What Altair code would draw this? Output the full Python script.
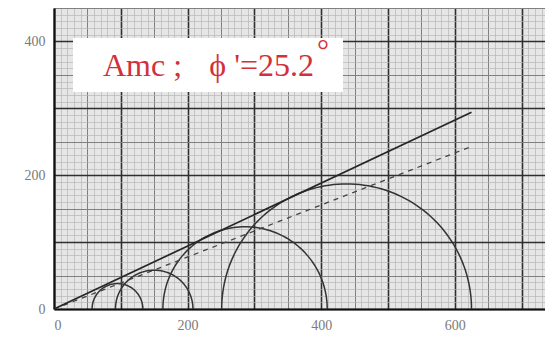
import altair as alt
import pandas as pd

# ---- data ----
circle_center = [95, 150, 286, 438]      # sigma' centre of each Mohr circle
circle_radius = [38, 58, 123, 187]       # radius of each Mohr circle
env_x = [0, 625]                         # envelope end points (x)
solid_y = [0, 294]                       # solid envelope (phi' = 25.2 deg)
dash_y = [0, 243]                        # dashed envelope
x_label_values = [0, 200, 400, 600]
y_label_values = [0, 200, 400]
grid_step = 10
x_max, y_max = 735, 450
label_left = "Amc ;"
label_right = "\u03d5 '=25.2"
degree_text = "\u00b0"

W, H = 491, 301

xs = alt.Scale(domain=[0, x_max], nice=False, zero=False)
ys = alt.Scale(domain=[0, y_max], nice=False, zero=False)

grid_color = {
    "condition": [
        {"test": "datum.value % 100 === 0", "value": "#2f2f2f"},
        {"test": "datum.value % 50 === 0", "value": "#808080"},
    ],
    "value": "#b4b4b4",
}
grid_width = {
    "condition": [
        {"test": "datum.value % 100 === 0", "value": 1.6},
        {"test": "datum.value % 50 === 0", "value": 1.0},
    ],
    "value": 0.65,
}

x_lab = " || ".join(f"datum.value === {v}" for v in x_label_values)
y_lab = " || ".join(f"datum.value === {v}" for v in y_label_values)

x_axis = alt.Axis(
    values=list(range(0, x_max + 1, grid_step)),
    grid=True, gridColor=grid_color, gridWidth=grid_width, gridOpacity=1,
    ticks=False, domainColor="#111", domainWidth=2.2,
    labelExpr=f"({x_lab}) ? datum.label : ''", labelOverlap=False,
    labelFont="Liberation Serif", labelFontSize=14, labelColor="#7a7a7a",
    labelPadding=9, title=None,
)
y_axis = alt.Axis(
    values=list(range(0, y_max + 1, grid_step)),
    grid=True, gridColor=grid_color, gridWidth=grid_width, gridOpacity=1,
    ticks=False, domainColor="#111", domainWidth=2.2,
    labelExpr=f"({y_lab}) ? datum.label : ''", labelOverlap=False,
    labelFont="Liberation Serif", labelFontSize=14, labelColor="#7a7a7a",
    labelPadding=9, title=None,
)


def X(field):
    return alt.X(field, scale=xs, axis=x_axis)


def Y(field):
    return alt.Y(field, scale=ys, axis=y_axis)


env = pd.DataFrame({"x": env_x * 2, "y": solid_y + dash_y,
                    "kind": ["solid", "solid", "dash", "dash"]})

solid = alt.Chart(env).transform_filter("datum.kind === 'solid'").mark_line(
    color="#262626", strokeWidth=1.7
).encode(x=X("x:Q"), y=Y("y:Q"))

dashed = alt.Chart(env).transform_filter("datum.kind === 'dash'").mark_line(
    color="#444", strokeWidth=1.3, strokeDash=[5, 5]
).encode(x=X("x:Q"), y=Y("y:Q"))

circ_df = pd.DataFrame({"c": circle_center, "r": circle_radius,
                        "id": list(range(len(circle_center)))})
circles = alt.Chart(circ_df).transform_calculate(
    t="sequence(0, 181, 2)"
).transform_flatten(["t"]).transform_calculate(
    px="datum.c + datum.r * cos(datum.t * PI / 180)",
    py="datum.r * sin(datum.t * PI / 180)",
).mark_line(color="#333", strokeWidth=1.5).encode(
    x=X("px:Q"), y=Y("py:Q"),
    detail="id:N", order="t:Q",
)

lab_df = pd.DataFrame({"a": [label_left], "b": [label_right], "deg": [degree_text]})
box = alt.Chart(lab_df).mark_rect(color="white").encode(
    x=alt.value(19), x2=alt.value(289), y=alt.value(30), y2=alt.value(84)
)
txt_a = alt.Chart(lab_df).mark_text(
    align="left", baseline="alphabetic", font="Liberation Serif",
    fontSize=32, color="#d3303c"
).encode(x=alt.value(49), y=alt.value(68), text="a:N")
txt_b = alt.Chart(lab_df).mark_text(
    align="right", baseline="alphabetic", font="Liberation Serif",
    fontSize=32, color="#d3303c"
).encode(x=alt.value(260), y=alt.value(68), text="b:N")
deg = alt.Chart(lab_df).mark_text(
    align="center", baseline="alphabetic", font="Liberation Serif",
    fontSize=30, color="#d3303c"
).encode(x=alt.value(269), y=alt.value(52), text="deg:N")

chart = alt.layer(circles, dashed, solid, box, txt_a, txt_b, deg).properties(
    width=W, height=H, autosize="none",
    padding={"left": 54, "top": 8, "right": 0, "bottom": 32},
    background="white",
).configure_view(fill="#e6e6e6", stroke=None)

chart.save("out.html", embed_options={"renderer": "svg", "actions": False})
